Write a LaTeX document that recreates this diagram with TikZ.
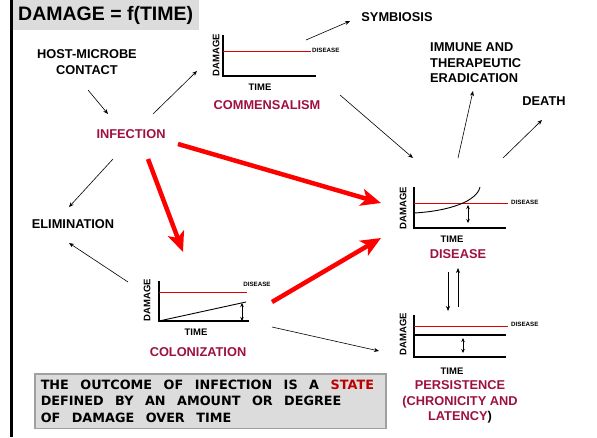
\documentclass[tikz,border=0pt]{standalone}
\usepackage{fontspec}
\setmainfont{Liberation Sans}
\newfontfamily\notefont{DejaVu Sans}
\newcommand\notespacing{\spaceskip=11.5pt plus 1pt minus 1pt\relax}
\usetikzlibrary{arrows.meta}
\definecolor{outred}{RGB}{158,16,64}
\definecolor{linered}{RGB}{220,0,0}
\definecolor{arrowred}{RGB}{255,0,0}
\definecolor{titlegray}{RGB}{220,220,220}
\definecolor{notegray}{RGB}{220,220,220}
\definecolor{noteedge}{RGB}{160,160,160}
\definecolor{statered}{RGB}{190,0,0}

\begin{document}
\begin{tikzpicture}[x=1pt,y=-1pt,
  lbl/.style={font=\fontsize{12.8}{16}\selectfont\bfseries, inner sep=0pt},
  outcome/.style={lbl, text=outred},
  axislbl/.style={font=\fontsize{9.5}{11}\selectfont\bfseries, inner sep=0pt},
  threshlbl/.style={font=\fontsize{6.2}{7}\selectfont\bfseries, inner sep=0pt},
  axisline/.style={line width=1.5pt},
  threshold/.style={line width=1pt, draw=linered},
  thinarrow/.style={-{Stealth[length=5pt,width=4pt]}, line width=0.6pt},
  levelarrow/.style={{Stealth[length=4pt,width=3.5pt]}-{Stealth[length=4pt,width=3.5pt]}, line width=0.7pt},
  bigarrow/.style={-{Stealth[length=20pt,width=17pt,inset=5pt]}, line width=4.5pt, draw=arrowred}]
  \useasboundingbox (0,0) rectangle (597,437);

  % Title and left bar
  \node[fill=titlegray, minimum width=187pt, minimum height=30pt, inner sep=0pt,
        anchor=north west, font=\fontsize{19.5}{22}\selectfont\bfseries] (title) at (12,0) {DAMAGE = f(TIME)};
  \draw[line width=2.7pt] (11.3,0) -- (11.3,437);

  % Plain labels
  \node[lbl, align=center] (host) at (87,62) {HOST-MICROBE\\CONTACT};
  \node[outcome] (inf) at (131,134) {INFECTION};
  \node[lbl] (elim) at (73,224) {ELIMINATION};
  \node[lbl] (sym) at (397,17) {SYMBIOSIS};
  \node[lbl, align=left, anchor=west, font=\fontsize{12.8}{15.5}\selectfont\bfseries] (immune) at (430,63) {IMMUNE AND\\THERAPEUTIC\\ERADICATION};
  \node[lbl] (death) at (544,101) {DEATH};

  % Commensalism graph
  \coordinate (comorig) at (223,76);
  \draw[axisline] (223,35) -- (comorig) -- (316,76);
  \draw[threshold] (223,51) -- (311,51);
  \node[threshlbl, anchor=west] (comdis) at (312,50) {DISEASE};
  \node[axislbl, rotate=90] (comdam) at (216,55) {DAMAGE};
  \node[axislbl] (comtime) at (260,87) {TIME};
  \node[outcome] (comlbl) at (267,105) {COMMENSALISM};

  % Colonization graph
  \coordinate (colorig) at (159,321);
  \draw[axisline] (159,281) -- (colorig) -- (249,321);
  \draw[threshold] (159,292) -- (247,292);
  \draw[line width=0.9pt] (colorig) -- (246,302);
  \draw[levelarrow] (242,303) -- (242,321);
  \node[threshlbl] (coldis) at (257,284) {DISEASE};
  \node[axislbl, rotate=90] (coldam) at (147,300) {DAMAGE};
  \node[axislbl] (coltime) at (196,332) {TIME};
  \node[outcome] (collbl) at (198,352) {COLONIZATION};

  % Disease graph
  \coordinate (disorig) at (414,228);
  \draw[axisline] (414,187) -- (disorig) -- (506,228);
  \draw[threshold] (414,203) -- (508,203);
  \draw[line width=0.9pt] (414,213) .. controls (450,211) and (477,201) .. (480,187);
  \draw[levelarrow] (468,205) -- (468,223);
  \node[threshlbl, anchor=west] (disdis) at (511,202) {DISEASE};
  \node[axislbl, rotate=90] (disdam) at (403,208) {DAMAGE};
  \node[axislbl] (distime) at (452,239) {TIME};
  \node[outcome] (dislbl) at (458,254) {DISEASE};

  % Persistence graph
  \coordinate (perorig) at (414,357);
  \draw[axisline] (414,315) -- (perorig) -- (506,357);
  \draw[threshold] (414,326) -- (508,326);
  \draw[line width=1.3pt] (414,335) -- (506,335);
  \draw[levelarrow] (463,338) -- (463,353);
  \node[threshlbl, anchor=west] (perdis) at (511,324) {DISEASE};
  \node[axislbl, rotate=90] (perdam) at (403,334) {DAMAGE};
  \node[axislbl] (pertime) at (452,371) {TIME};
  \node[outcome, align=center, font=\fontsize{12.8}{15.5}\selectfont\bfseries] (perlbl) at (460,402)
    {PERSISTENCE\\(CHRONICITY AND\\LATENCY\textcolor{black}{)}};

  % Thin connectors
  \draw[thinarrow] ([shift={(1,28)}]host.center) -- ([shift={(-23,-20)}]inf.center);
  \draw[thinarrow] ([shift={(22,-20)}]inf.center) -- ([shift={(-26,-5)}]comorig);
  \draw[thinarrow] ([shift={(83,-36)}]comorig) -- ([shift={(-47,4)}]sym.center);
  \draw[thinarrow] ([shift={(-18,25)}]inf.center) -- ([shift={(-4,-17)}]elim.center);
  \draw[thinarrow] ([shift={(-31,-39)}]colorig) -- ([shift={(-4,19)}]elim.center);
  \draw[thinarrow] ([shift={(73,-10)}]comlbl.center) -- ([shift={(-1,-70)}]disorig);
  \draw[thinarrow] ([shift={(44,-70)}]disorig) -- ([shift={(43,28)}]immune.west);
  \draw[thinarrow] ([shift={(89,-70)}]disorig) -- ([shift={(-2,19)}]death.center);
  \draw[thinarrow] ([shift={(113,6)}]colorig) -- ([shift={(-35,-6)}]perorig);
  \draw[thinarrow] ([shift={(-10,18)}]dislbl.center) -- ([shift={(34,-46)}]perorig);
  \draw[thinarrow] ([shift={(44,-50)}]perorig) -- ([shift={(0,14)}]dislbl.center);

  % Thick red connectors
  \draw[bigarrow] ([shift={(17,25)}]inf.center) -- ([shift={(24,-69)}]colorig);
  \draw[bigarrow] ([shift={(47,10)}]inf.center) -- ([shift={(-33,-25)}]disorig);
  \draw[bigarrow] ([shift={(113,-19)}]colorig) -- ([shift={(-33,10)}]disorig);

  % Note box
  \node[draw=noteedge, fill=notegray, line width=1.5pt, anchor=north west,
        minimum width=351pt, minimum height=54pt, inner sep=6pt, text width=339pt, align=left,
        font=\notefont\fontsize{12.8}{16.5}\selectfont\bfseries] (note) at (34,373)
    {\notespacing THE OUTCOME OF INFECTION IS A \textcolor{statered}{STATE}\\
     DEFINED BY AN AMOUNT OR DEGREE\\
     OF DAMAGE OVER TIME};
\end{tikzpicture}
\end{document}
